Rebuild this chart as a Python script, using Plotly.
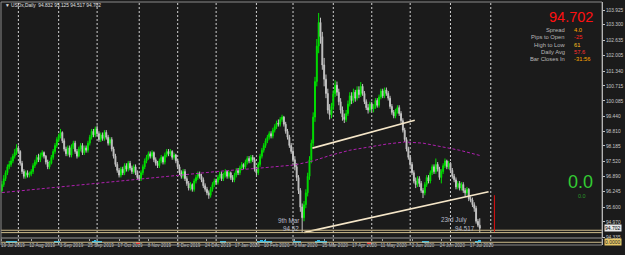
import plotly.graph_objects as go
import pandas as pd

# ---------------- data ----------------
start_date = "2019-07-19"
grid_end_date = "2020-08-14"
holidays = ["2019-12-25", "2020-01-01", "2020-04-10", "2020-07-03"]
first_open = 96.30
closes = [
    96.55, 96.80, 97.05, 97.30, 97.40, 97.55, 97.75, 97.90, 98.10, 97.95,
    97.45, 97.10, 96.90, 97.05, 96.95, 97.00, 97.10, 97.35, 97.50, 97.70,
    97.60, 97.80, 97.90, 97.75, 97.50, 97.30, 97.45, 97.70, 97.95, 98.20,
    98.45, 98.60, 98.75, 98.40, 98.05, 97.85, 98.10, 97.80, 98.15, 98.30,
    97.95, 97.75, 98.05, 98.20, 97.90, 98.10, 98.00, 98.30, 98.55, 98.80,
    98.65, 98.90, 98.70, 98.45, 98.65, 98.50, 98.75, 98.55, 98.30, 98.45,
    98.05, 97.75, 97.40, 97.15, 96.95, 97.20, 97.05, 97.35, 97.20, 97.45,
    97.25, 97.10, 97.30, 97.05, 96.85, 96.80, 97.05, 97.30, 97.55, 97.70,
    97.85, 97.75, 97.90, 97.60, 97.45, 97.35, 97.55, 97.70, 97.50, 97.80,
    97.95, 97.85, 97.95, 97.70, 97.80, 97.55, 97.30, 97.05, 96.90, 97.10,
    96.80, 96.60, 96.40, 96.55, 96.35, 96.70, 96.85, 97.00, 96.90, 96.75,
    96.50, 96.35, 96.20, 96.10, 96.35, 96.55, 96.70, 96.65, 96.85, 97.00,
    96.80, 96.95, 97.10, 96.90, 97.05, 96.85, 96.75, 96.95, 97.15, 97.05,
    97.25, 97.40, 97.30, 97.50, 97.65, 97.55, 97.70, 97.60, 97.20, 97.05,
    97.40, 97.75, 98.00, 98.20, 98.40, 98.55, 98.70, 98.60, 98.85, 99.00,
    99.15, 99.10, 99.30, 99.40, 99.10, 98.80, 98.55, 98.20, 97.95, 97.60,
    97.30, 96.85, 96.30, 95.60, 95.15, 95.70, 96.20, 96.90, 97.60, 98.30,
    99.40, 100.90, 102.40, 103.40, 102.80, 101.60, 101.00, 100.40, 99.70, 99.50,
    99.85, 100.40, 100.75, 100.45, 100.05, 99.70, 99.40, 99.30, 99.55, 99.95,
    100.30, 100.10, 100.45, 100.20, 100.55, 100.35, 100.70, 100.40, 100.05, 99.80,
    99.70, 99.95, 99.75, 99.85, 100.10, 99.90, 100.25, 100.50, 100.30, 100.55,
    100.40, 100.20, 99.85, 99.60, 99.45, 99.65, 99.80, 99.55, 99.25, 98.85,
    98.45, 98.05, 97.70, 97.40, 97.05, 96.70, 96.55, 96.80, 96.60, 96.30,
    96.20, 96.55, 96.85, 96.70, 97.05, 97.30, 97.10, 97.40, 97.20, 96.85,
    97.10, 97.35, 97.55, 97.30, 97.45, 97.15, 96.90, 96.75, 96.45, 96.60,
    96.40, 96.55, 96.30, 96.20, 96.35, 95.95, 95.90, 95.70, 95.55, 95.00,
    94.832, 94.702,
]
highs = [
    96.70, 96.95, 97.15, 97.40, 97.55, 97.70, 97.85, 98.05, 98.25, 98.20,
    98.00, 97.55, 97.20, 97.15, 97.15, 97.10, 97.20, 97.45, 97.60, 97.80,
    97.85, 97.90, 98.00, 97.95, 97.80, 97.60, 97.55, 97.80, 98.05, 98.30,
    98.55, 98.70, 98.90, 98.80, 98.50, 98.15, 98.20, 98.20, 98.25, 98.40,
    98.40, 98.05, 98.15, 98.30, 98.30, 98.20, 98.20, 98.40, 98.65, 98.90,
    98.90, 99.00, 99.05, 98.80, 98.75, 98.75, 98.85, 98.85, 98.65, 98.55,
    98.55, 98.15, 97.85, 97.50, 97.25, 97.30, 97.30, 97.45, 97.45, 97.55,
    97.55, 97.35, 97.40, 97.40, 97.15, 96.95, 97.15, 97.40, 97.65, 97.80,
    97.95, 97.95, 98.00, 97.95, 97.70, 97.55, 97.65, 97.80, 97.75, 97.90,
    98.05, 98.05, 98.05, 98.00, 97.90, 97.85, 97.65, 97.40, 97.15, 97.20,
    97.20, 96.90, 96.70, 96.65, 96.60, 96.80, 96.95, 97.10, 97.10, 97.00,
    96.85, 96.60, 96.45, 96.30, 96.45, 96.65, 96.80, 96.80, 96.95, 97.10,
    97.10, 97.05, 97.20, 97.15, 97.15, 97.10, 96.95, 97.05, 97.25, 97.25,
    97.35, 97.50, 97.45, 97.60, 97.75, 97.75, 97.80, 97.80, 97.70, 97.30,
    97.50, 97.85, 98.10, 98.30, 98.50, 98.65, 98.80, 98.80, 98.95, 99.10,
    99.25, 99.30, 99.40, 99.50, 99.45, 99.20, 98.90, 98.65, 98.30, 98.05,
    97.75, 97.45, 96.95, 96.40, 95.75, 95.85, 96.35, 97.05, 97.75, 98.45,
    99.60, 101.10, 102.70, 103.80, 103.60, 103.00, 101.90, 101.20, 100.60, 99.95,
    100.00, 100.55, 100.95, 100.90, 100.60, 100.20, 99.85, 99.55, 99.70, 100.10,
    100.45, 100.45, 100.60, 100.55, 100.70, 100.70, 100.88, 100.80, 100.50, 100.15,
    99.95, 100.05, 100.05, 99.95, 100.20, 100.20, 100.35, 100.60, 100.60, 100.65,
    100.65, 100.50, 100.30, 99.95, 99.70, 99.75, 99.90, 99.90, 99.65, 99.35,
    98.95, 98.55, 98.15, 97.80, 97.50, 97.15, 96.85, 96.90, 96.90, 96.70,
    96.40, 96.65, 96.95, 96.95, 97.15, 97.40, 97.40, 97.65, 97.50, 97.30,
    97.20, 97.45, 97.65, 97.60, 97.55, 97.50, 97.25, 97.00, 96.85, 96.70,
    96.70, 96.65, 96.65, 96.40, 96.45, 96.40, 96.05, 96.00, 95.80, 95.65,
    95.10, 95.125,
]
lows = [
    96.20, 96.45, 96.70, 96.95, 97.20, 97.30, 97.45, 97.65, 97.80, 97.85,
    97.35, 97.00, 96.80, 96.80, 96.85, 96.85, 96.90, 97.00, 97.25, 97.40,
    97.50, 97.50, 97.70, 97.65, 97.40, 97.20, 97.20, 97.40, 97.60, 97.85,
    98.10, 98.35, 98.50, 98.30, 97.95, 97.75, 97.75, 97.70, 97.70, 98.05,
    97.85, 97.65, 97.70, 97.95, 97.80, 97.80, 97.90, 97.90, 98.20, 98.45,
    98.55, 98.55, 98.60, 98.35, 98.35, 98.40, 98.40, 98.45, 98.20, 98.20,
    97.95, 97.65, 97.30, 97.05, 96.85, 96.85, 96.95, 96.95, 97.10, 97.10,
    97.15, 97.00, 97.00, 96.95, 96.75, 96.70, 96.70, 96.95, 97.20, 97.45,
    97.60, 97.65, 97.65, 97.50, 97.35, 97.25, 97.25, 97.45, 97.40, 97.40,
    97.70, 97.75, 97.75, 97.60, 97.60, 97.45, 97.20, 96.95, 96.80, 96.80,
    96.70, 96.50, 96.30, 96.30, 96.25, 96.25, 96.60, 96.75, 96.80, 96.65,
    96.40, 96.25, 96.10, 95.95, 96.00, 96.25, 96.45, 96.55, 96.55, 96.75,
    96.70, 96.70, 96.85, 96.80, 96.80, 96.75, 96.65, 96.65, 96.85, 96.95,
    96.95, 97.15, 97.20, 97.20, 97.40, 97.45, 97.45, 97.50, 97.10, 96.95,
    96.95, 97.30, 97.65, 97.90, 98.10, 98.30, 98.45, 98.50, 98.50, 98.75,
    98.90, 99.00, 99.00, 99.20, 99.00, 98.70, 98.45, 98.10, 97.85, 97.50,
    97.15, 96.70, 96.15, 95.40, 94.52, 95.00, 95.55, 96.05, 96.75, 97.45,
    98.15, 99.20, 100.70, 102.10, 102.50, 101.40, 100.70, 100.20, 99.55, 99.30,
    99.35, 99.70, 100.25, 100.30, 99.90, 99.55, 99.25, 99.15, 99.20, 99.45,
    99.85, 99.95, 100.00, 100.05, 100.10, 100.20, 100.25, 100.30, 99.95, 99.70,
    99.55, 99.60, 99.65, 99.60, 99.75, 99.80, 99.80, 100.15, 100.20, 100.20,
    100.30, 100.10, 99.75, 99.50, 99.35, 99.35, 99.55, 99.45, 99.15, 98.75,
    98.35, 97.95, 97.60, 97.30, 96.95, 96.60, 96.40, 96.45, 96.45, 96.20,
    95.98, 96.10, 96.45, 96.60, 96.60, 96.95, 97.00, 97.00, 97.10, 96.75,
    96.60, 97.00, 97.25, 97.20, 97.20, 97.05, 96.80, 96.65, 96.35, 96.35,
    96.30, 96.30, 96.20, 96.05, 96.10, 95.85, 95.80, 95.60, 95.40, 94.90,
    94.75, 94.517,
]

# 200-day moving average
ma_idx = [0, 20, 40, 60, 80, 100, 120, 140, 160, 170, 180, 190, 200, 210, 220, 230, 240, 250, 261]
ma_val = [96.21, 96.36, 96.52, 96.68, 96.82, 96.96, 97.12, 97.24, 97.38, 97.55,
          97.80, 98.00, 98.14, 98.26, 98.35, 98.30, 98.15, 98.00, 97.78]

# trend lines drawn on the chart (bar index, price)
upper_line_x = [169.6, 225.5]
upper_line_y = [98.09, 99.27]
lower_line_x = [165.2, 265.8]
lower_line_y = [94.53, 96.25]

# horizontal levels
h_levels = [94.62, 94.52]

# x-axis labels (every 16 bars)
tick_idx = [0, 16, 32, 48, 64, 80, 96, 112, 128, 144, 160, 176, 192, 208, 224, 240, 256]
tick_labels = ["19 Jul 2019", "12 Aug 2019", "3 Sep 2019", "25 Sep 2019", "17 Oct 2019",
               "8 Nov 2019", "2 Dec 2019", "24 Dec 2019", "17 Jan 2020", "10 Feb 2020",
               "3 Mar 2020", "25 Mar 2020", "17 Apr 2020", "11 May 2020", "2 Jun 2020",
               "24 Jun 2020", "17 Jul 2020"]

# price scale labels
y_ticks = [103.925, 103.300, 102.635, 102.005, 101.340, 100.715, 100.085, 99.440,
           98.810, 98.185, 97.520, 96.890, 96.245, 95.600, 94.970, 94.335]

# sub-window histogram
hist_idx = [3, 4, 5, 6, 7, 8, 29, 30, 31, 50, 51, 52, 53, 54, 74, 75, 120, 121, 122,
            140, 141, 142, 143, 144, 145, 146, 147, 160, 161, 162, 163, 172, 173, 174,
            175, 176, 177, 200, 201, 230, 231, 232, 233, 259, 260, 261]
hist_val = [0.4, 0.6, 0.5, 0.6, 0.4, 0.3, 0.4, 0.5, 0.3, 0.5, 0.7, 0.6, 0.4, 0.3, -0.4, -0.3,
            0.3, 0.4, 0.3, 0.5, 0.6, 0.7, 0.6, 0.7, 0.5, 0.4, 0.3, 0.4, 0.6, 0.5, 0.3,
            0.5, 0.7, 0.6, 0.5, 0.4, 0.3, -0.3, -0.4, 0.4, 0.5, 0.6, 0.4, 0.3, 0.5, 0.7]

# ---------------- derived ----------------
n = len(closes)
idx = list(range(n))
opens = [first_open] + closes[:-1]
highs = [max(h, o, c) for h, o, c in zip(highs, opens, closes)]
lows = [min(l, o, c) for l, o, c in zip(lows, opens, closes)]

bdays = pd.bdate_range(start_date, grid_end_date)
bdays = bdays[~bdays.isin(pd.to_datetime(holidays))]
month_start_idx = []
for i in range(1, len(bdays)):
    if bdays[i].month != bdays[i - 1].month:
        month_start_idx.append(i)

# ---------------- layout geometry ----------------
W, H = 625, 255
ML, MR, MT, MB = 1, 20, 2, 10
PW, PH = W - ML - MR, H - MT - MB
PX_PER_BAR = 1.84
x_range = [-0.5, -0.5 + PW / PX_PER_BAR]


def px_x(px):
    return (px - ML) / PW


def px_y(py):
    return 1 - (py - MT) / PH


BG = "#1b1b1b"
FONT = "Liberation Sans"
AX_COL = "#c8c8c8"

fig = go.Figure()

fig.add_trace(go.Scatter(
    x=ma_idx, y=ma_val, mode="lines",
    line=dict(color="#b020b0", width=1, dash="3px,2px"),
    hoverinfo="skip", showlegend=False))

fig.add_trace(go.Candlestick(
    x=idx, open=opens, high=highs, low=lows, close=closes,
    increasing=dict(line=dict(color="#00e000", width=1), fillcolor="#00e000"),
    decreasing=dict(line=dict(color="#c4c4c4", width=1), fillcolor="#c4c4c4"),
    whiskerwidth=0, showlegend=False))

for lx, ly in ((upper_line_x, upper_line_y), (lower_line_x, lower_line_y)):
    fig.add_trace(go.Scatter(x=lx, y=ly, mode="lines",
                             line=dict(color="#f5e6c8", width=1.6),
                             hoverinfo="skip", showlegend=False))

fig.add_trace(go.Bar(
    x=hist_idx, y=hist_val, yaxis="y2",
    marker=dict(color=["#20b8f0" if v > 0 else "#e03030" for v in hist_val], line_width=0),
    width=1, showlegend=False, hoverinfo="skip"))

shapes = []
# month grid lines
for m in month_start_idx:
    shapes.append(dict(type="line", xref="x", yref="paper", x0=m, x1=m, y0=0, y1=1,
                       line=dict(color="#d0d0d0", width=1, dash="2px,2px"), layer="below"))
# horizontal levels
for lv in h_levels:
    shapes.append(dict(type="line", xref="paper", yref="y", x0=0, x1=1, y0=lv, y1=lv,
                       line=dict(color="#cdbb8a", width=1)))
# separator between main window and sub window
shapes.append(dict(type="line", xref="paper", yref="paper", x0=0, x1=1,
                   y0=px_y(238), y1=px_y(238), line=dict(color="#707070", width=1.5)))
# sub-window zero level
shapes.append(dict(type="line", xref="paper", yref="y2", x0=0, x1=1, y0=0, y1=0,
                   line=dict(color="#cdbb8a", width=1)))
# red marker line
shapes.append(dict(type="line", xref="x", yref="y", x0=269, x1=269, y0=94.55, y1=96.10,
                   line=dict(color="#e01010", width=1)))
# frame
shapes.append(dict(type="rect", xref="paper", yref="paper", x0=0, x1=1, y0=0, y1=1,
                   line=dict(color="#8a8a8a", width=1)))

ann = []


def txt(x, y, text, size, color, xanchor="left", **kw):
    ann.append(dict(xref="paper", yref="paper", x=px_x(x), y=px_y(y), text=text,
                    showarrow=False, xanchor=xanchor, yanchor="middle",
                    font=dict(family=FONT, size=size, color=color), **kw))


txt(3, 5.5, "▼ USDx,Daily  94.832 95.125 94.517 94.702", 4.8, "#e0e0e0")
txt(598, 17.5, "94.702", 14.5, "#ff1010", xanchor="right")
rows = [("Spread", "4.0", "#ffa500"), ("Pips to Open", "-25", "#ff2020"),
        ("High to Low", "61", "#ffc020"), ("Daily Avg", "57.6", "#ff3030"),
        ("Bar Closes In", "-31:56", "#ffa500")]
for k, (lab, val, col) in enumerate(rows):
    yy = 30 + k * 7.3
    txt(570, yy, lab, 5.8, "#b8b8b8", xanchor="right")
    txt(575, yy, val, 5.8, col)
txt(598, 182, "0.0", 18, "#33cc33", xanchor="right")
txt(591, 196, "0.0", 5.5, "#2a9a2a", xanchor="right")
txt(302, 220, "9th Mar", 6.3, "#b8bcc8", xanchor="right")
txt(302, 228, "94.52", 6.3, "#b8bcc8", xanchor="right")
txt(471, 220, "23rd July", 6.3, "#b8bcc8", xanchor="right")
txt(479, 228, "94.517", 6.3, "#b8bcc8", xanchor="right")
# price boxes on the scale
ann.append(dict(xref="paper", yref="y", x=px_x(607), y=closes[-1], text="94.702",
                showarrow=False, xanchor="left", yanchor="middle", bgcolor="#e8e8e8",
                borderpad=0, font=dict(family=FONT, size=5, color="#000000")))
ann.append(dict(xref="paper", yref="y2", x=px_x(607), y=0, text="0.0000",
                showarrow=False, xanchor="left", yanchor="middle", bgcolor="#e8c868",
                borderpad=0, font=dict(family=FONT, size=5, color="#202020")))

main_bottom = px_y(238)
# price range from pixel mapping: 103.925 at y=10, 23.67 px per unit
p_top = 103.925 + (10 - MT) / 23.67
p_bot = 103.925 - (238 - 10) / 23.67

fig.update_layout(
    width=W, height=H,
    margin=dict(l=ML, r=MR, t=MT, b=MB),
    paper_bgcolor=BG, plot_bgcolor=BG,
    showlegend=False,
    bargap=0,
    xaxis=dict(range=x_range, rangeslider=dict(visible=False), showgrid=False,
               zeroline=False, tickmode="array", tickvals=tick_idx, ticktext=tick_labels,
               ticks="outside", ticklen=2, tickcolor="#a0a0a0", ticklabelshift=11,
               tickfont=dict(family=FONT, size=4.6, color=AX_COL), showline=False),
    yaxis=dict(domain=[main_bottom, 1], range=[p_bot, p_top], side="right",
               tickmode="array", tickvals=y_ticks, ticktext=[f"{v:.3f}" for v in y_ticks],
               ticks="outside", ticklen=2, tickcolor="#c0c0c0", showgrid=False,
               zeroline=False, showline=True, linecolor="#e0e0e0", linewidth=1,
               tickfont=dict(family=FONT, size=4.8, color=AX_COL)),
    yaxis2=dict(domain=[0, px_y(239)], range=[-1, 1.2], side="right", showticklabels=False,
                showgrid=False, zeroline=False, showline=True, linecolor="#e0e0e0",
                linewidth=1, anchor="x"),
    shapes=shapes,
    annotations=ann,
)

fig.write_html("out.html")
